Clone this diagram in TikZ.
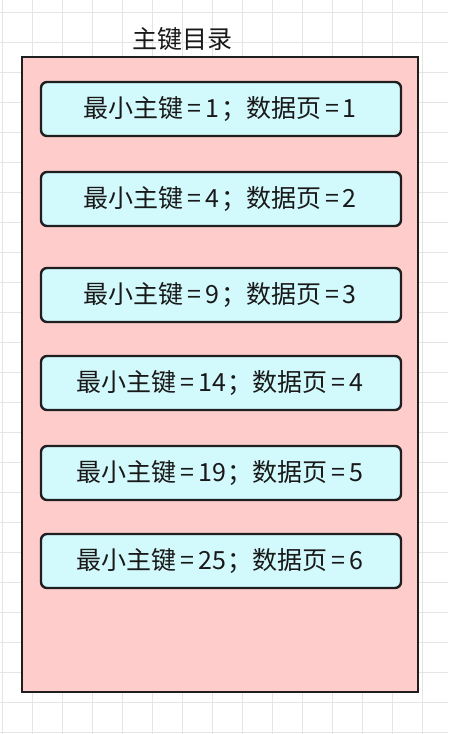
\documentclass[tikz,border=0pt]{standalone}
\usepackage{fontspec}
\setmainfont{Noto Sans CJK SC}
\definecolor{keyfill}{HTML}{D2F9FC}
\definecolor{dirfill}{HTML}{FFCCCC}
\newcommand{\eqk}{\kern4pt=\kern4pt}
\begin{document}
\begin{tikzpicture}[x=1pt,y=-1pt,
  gridline/.style={draw=black!10, line width=0.8pt},
  outerbox/.style={draw=black!88, line width=2.2pt, fill=dirfill},
  keybox/.style={draw=black!88, line width=2.4pt, fill=keyfill, rounded corners=6pt},
  keytext/.style={font=\fontsize{25}{28}\selectfont, text=black!90}]
\useasboundingbox (0,0) rectangle (448,734);
\fill[white] (0,0) rectangle (448,734);
\foreach \i in {0,...,14} {\draw[gridline] (2+30*\i,0) -- (2+30*\i,734);}
\foreach \j in {0,...,24} {\draw[gridline] (0,12+30*\j) -- (448,12+30*\j);}
\node[keytext] (title) at (182,39) {主键目录};
\draw[outerbox] (22,57) rectangle (418,692);
\foreach \n/\yc/\k/\p in {1/109/1/1, 2/199/4/2, 3/295/9/3, 4/383/14/4, 5/473/19/5, 6/561/25/6} {
  \draw[keybox] (41,\yc-27) rectangle (401,\yc+27);
  \node[keytext] (k\n) at (220,\yc) {最小主键\eqk\k\kern2pt；数据页\eqk\p};
}
\end{tikzpicture}
\end{document}
